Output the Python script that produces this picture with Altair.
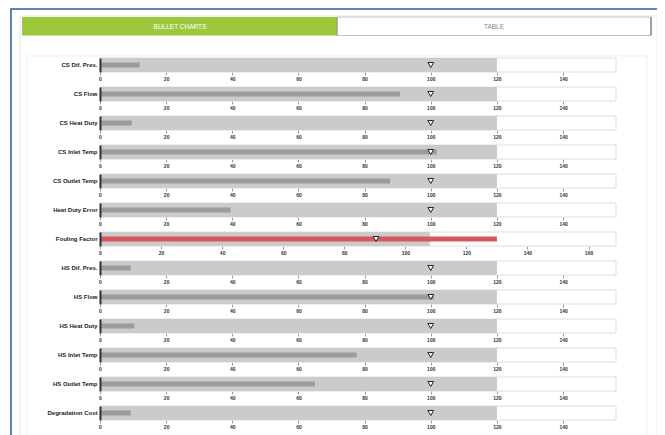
import altair as alt
import pandas as pd

# ---- data ----
metrics = ["CS Dif. Pres.", "CS Flow", "CS Heat Duty", "CS Inlet Temp", "CS Outlet Temp",
           "Heat Duty Error", "Fouling Factor", "HS Dif. Pres.", "HS Flow", "HS Heat Duty",
           "HS Inlet Temp", "HS Outlet Temp", "Degradation Cost"]
measures = [12, 90.7, 9.6, 101.8, 87.7, 39.5, 130, 9.3, 101, 10.4, 77.6, 65, 9.3]
ranges = [120, 120, 120, 120, 120, 120, 108, 120, 120, 120, 120, 120, 120]
markers = [100, 100, 100, 100, 100, 100, 90.4, 100, 100, 100, 100, 100, 100]
tabs = ["BULLET CHARTS", "TABLE"]

FONT = "Liberation Sans"
W = 516
H = 14


def row_chart(i):
    dmax = 1.3 * max(ranges[i], measures[i], markers[i])
    df = pd.DataFrame({"metric": [metrics[i]], "zero": [0], "dmax": [dmax],
                       "range": [ranges[i]], "measure": [measures[i]], "marker": [markers[i]]})
    ticks = list(range(0, int(dmax) + 1, 20))
    xs = alt.Scale(domain=[0, dmax], nice=False, zero=True)
    ys = alt.Scale(paddingInner=0, paddingOuter=0)
    yenc = alt.Y("metric:N", scale=ys,
                 axis=alt.Axis(title=None, ticks=False, domain=True, domainColor="#333",
                               domainWidth=2, labelFont=FONT, labelFontSize=6,
                               labelFontWeight="bold", labelColor="#222", labelPadding=3,
                               labelLimit=120, zindex=1))
    xaxis = alt.Axis(title=None, values=ticks, grid=False, domain=False, ticks=True,
                     tickSize=3, tickColor="#999", labelFont=FONT, labelFontSize=5,
                     labelFontWeight="bold", labelColor="#333", labelPadding=1,
                     labelFlush=False, format="d")
    base = alt.Chart(df)
    bg = base.mark_bar(color="white", stroke="#dedede", strokeWidth=1).encode(
        x=alt.X("zero:Q", scale=xs, axis=xaxis), x2="dmax:Q", y=yenc)
    rng = base.mark_bar(color="#cbcbcb").encode(x="zero:Q", x2="range:Q", y=yenc)
    col = "#d9545c" if measures[i] > ranges[i] else "#9c9c9c"
    meas = base.mark_bar(color=col, size=5).encode(x="zero:Q", x2="measure:Q", y=yenc)
    mk = base.mark_point(shape="triangle-down", filled=True, fill="white", stroke="#222",
                         strokeWidth=1, size=34, opacity=1).encode(x="marker:Q", y=yenc)
    return alt.layer(bg, rng, meas, mk).properties(width=W, height=H)


one = pd.DataFrame({"k": [0]})
frame = alt.Chart(one).mark_rect(fillOpacity=0, stroke="#2a5b9c", strokeWidth=1.5).encode(
    x=alt.value(-89), x2=alt.value(562), y=alt.value(0), y2=alt.value(440))
outer = alt.Chart(one).mark_rect(fillOpacity=0, stroke="#e8e8e8", strokeWidth=1).encode(
    x=alt.value(-80), x2=alt.value(557), y=alt.value(7), y2=alt.value(440))
panel = alt.Chart(one).mark_rect(fillOpacity=0, stroke="#efefef", strokeWidth=1).encode(
    x=alt.value(-73), x2=alt.value(547), y=alt.value(47), y2=alt.value(440))
tab1 = alt.Chart(one).mark_rect(color="#9cc93b").encode(
    x=alt.value(-78), x2=alt.value(237), y=alt.value(8), y2=alt.value(26.5))
tab2 = alt.Chart(one).mark_rect(fill="white", stroke="#c4c4c4", strokeWidth=1).encode(
    x=alt.value(237), x2=alt.value(551), y=alt.value(8), y2=alt.value(26.5))
tab2r = alt.Chart(one).mark_rule(color="#777", strokeWidth=1.2).encode(
    x=alt.value(551), y=alt.value(8), y2=alt.value(26.5))
tab2l = alt.Chart(one).mark_rule(color="#888", strokeWidth=1).encode(
    x=alt.value(237), y=alt.value(8), y2=alt.value(26.5))
t1 = alt.Chart(pd.DataFrame({"label": [tabs[0]]})).mark_text(
    font=FONT, fontSize=6.5, color="white").encode(
    text="label:N", x=alt.value(80), y=alt.value(17.5))
t2 = alt.Chart(pd.DataFrame({"label": [tabs[1]]})).mark_text(
    font=FONT, fontSize=6.5, color="#888").encode(
    text="label:N", x=alt.value(394), y=alt.value(17.5))

header = alt.layer(frame, outer, panel, tab1, tab2, tab2r, tab2l, t1, t2).properties(
    width=W, height=33.5)

rows = [row_chart(i) for i in range(len(metrics))]

chart = alt.vconcat(header, *rows, spacing=15, bounds="flush").properties(
    padding={"left": 2, "top": 0, "right": -6, "bottom": 0}
).configure_view(stroke=None)

chart.save("out.html", embed_options={"renderer": "svg", "actions": False})
